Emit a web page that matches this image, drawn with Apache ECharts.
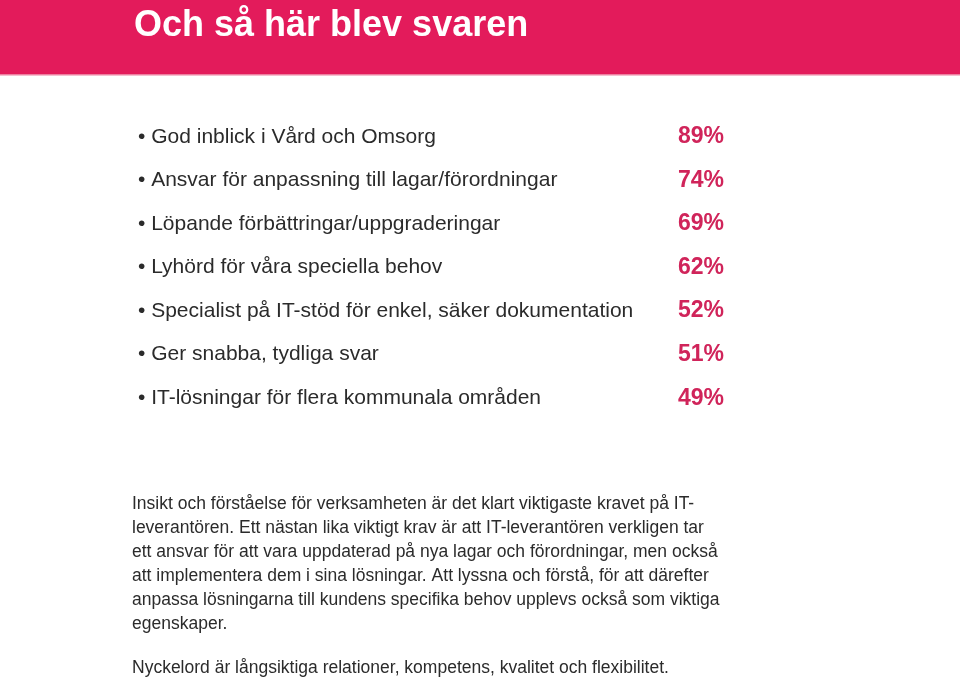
<!DOCTYPE html>
<html>
<head>
<meta charset="utf-8">
<script src="https://cdn.jsdelivr.net/npm/echarts@6/dist/echarts.min.js"></script>
<style>
html,body{margin:0;padding:0;background:#fff;}
#chart{width:960px;height:677px;}
</style>
</head>
<body>
<div id="chart"></div>
<script>
const titleText = 'Och så här blev svaren';
const categories = [
  'God inblick i Vård och Omsorg',
  'Ansvar för anpassning till lagar/förordningar',
  'Löpande förbättringar/uppgraderingar',
  'Lyhörd för våra speciella behov',
  'Specialist på IT-stöd för enkel, säker dokumentation',
  'Ger snabba, tydliga svar',
  'IT-lösningar för flera kommunala områden'
];
const values = [89, 74, 69, 62, 52, 51, 49];
const paragraphLines = [
  'Insikt och förståelse för verksamheten är det klart viktigaste kravet på IT-',
  'leverantören. Ett nästan lika viktigt krav är att IT-leverantören verkligen tar',
  'ett ansvar för att vara uppdaterad på nya lagar och förordningar, men också',
  'att implementera dem i sina lösningar. Att lyssna och förstå, för att därefter',
  'anpassa lösningarna till kundens specifika behov upplevs också som viktiga',
  'egenskaper.'
];
const closingLine = 'Nyckelord är långsiktiga relationer, kompetens, kvalitet och flexibilitet.';

const PINK = '#e31b5b';
const PCT = '#d0245a';
const TXT = '#2b2b2b';
const FONT = '"Liberation Sans", Arial, Helvetica, sans-serif';

const chart = echarts.init(document.getElementById('chart'), null, {renderer: 'canvas'});
chart.setOption({
  backgroundColor: '#ffffff',
  animation: false,
  graphic: [
    {type: 'rect', shape: {x: 0, y: 0, width: 960, height: 74}, style: {fill: PINK}, z: 0},
    {type: 'rect', shape: {x: 0, y: 74, width: 960, height: 1.5}, style: {fill: '#ee7fa0'}, z: 0},
    {type: 'text', left: 134, top: 8, style: {text: titleText, fill: '#ffffff', font: 'bold 36px ' + FONT}, z: 2},
    {type: 'text', left: 132, top: 492, style: {text: paragraphLines.join('\n'), fill: TXT, font: '17.5px ' + FONT, lineHeight: 24}, z: 2},
    {type: 'text', left: 132, top: 659, style: {text: closingLine, fill: TXT, font: '17.5px ' + FONT}, z: 2}
  ],
  grid: {left: 138, right: 236, top: 115, bottom: 257, containLabel: false},
  xAxis: {type: 'value', min: 0, max: 100, show: false},
  yAxis: [
    {
      type: 'category', data: categories, inverse: true, position: 'left',
      axisLine: {show: false}, axisTick: {show: false}, splitLine: {show: false},
      axisLabel: {
        align: 'left', margin: 0, color: TXT, fontSize: 21, fontFamily: FONT,
        formatter: function (v) { return '\u2022 ' + v; }
      }
    },
    {
      type: 'category', data: categories, inverse: true, position: 'right',
      axisLine: {show: false}, axisTick: {show: false}, splitLine: {show: false},
      axisLabel: {
        align: 'right', margin: 0, color: PCT, fontSize: 23, fontWeight: 'bold', fontFamily: FONT,
        formatter: function (v, i) { return values[i] + '%'; }
      }
    }
  ],
  series: [{
    type: 'bar', data: values, yAxisIndex: 0, silent: true,
    itemStyle: {color: 'rgba(0,0,0,0)'}, barWidth: 1
  }]
});
</script>
</body>
</html>
